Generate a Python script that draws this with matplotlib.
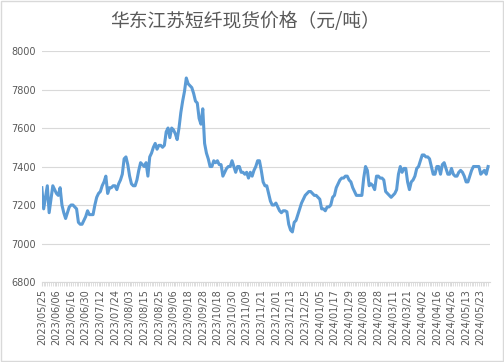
import matplotlib
matplotlib.use('Agg')
import matplotlib.pyplot as plt
from matplotlib.patches import Rectangle
import numpy as np

plt.rcParams['font.family'] = ['DejaVu Sans', 'Noto Sans CJK SC']

title = '华东江苏短纤现货价格（元/吨）'

# one value per trading day, 2023/05/25 .. 2024/05/29
price = [
    7290, 7180, 7240, 7300, 7160, 7230, 7300, 7280, 7260, 7250,
    7290, 7200, 7160, 7130, 7160, 7190, 7200, 7200, 7190, 7180,
    7110, 7100, 7100, 7120, 7140, 7170, 7150, 7150, 7150, 7200,
    7240, 7260, 7270, 7300, 7320, 7350, 7260, 7290, 7290, 7300,
    7300, 7280, 7310, 7330, 7360, 7440, 7450, 7410, 7350, 7310,
    7300, 7300, 7330, 7380, 7420, 7410, 7400, 7420, 7350, 7450,
    7470, 7500, 7520, 7490, 7510, 7510, 7500, 7510, 7580, 7600,
    7550, 7600, 7590, 7570, 7540, 7600, 7680, 7740, 7790, 7860,
    7830, 7820, 7810, 7780, 7740, 7730, 7650, 7620, 7700, 7520,
    7470, 7440, 7400, 7400, 7430, 7420, 7430, 7410, 7410, 7350,
    7370, 7390, 7400, 7400, 7430, 7400, 7370, 7400, 7400, 7370,
    7370, 7360, 7370, 7340, 7370, 7350, 7380, 7400, 7430, 7430,
    7380, 7320, 7300, 7300, 7260, 7220, 7200, 7200, 7210, 7190,
    7170, 7160, 7170, 7170, 7165, 7100, 7070, 7060, 7110, 7120,
    7150, 7180, 7210, 7230, 7250, 7260, 7270, 7270, 7260, 7250,
    7250, 7240, 7230, 7180, 7180, 7170, 7190, 7190, 7200, 7240,
    7250, 7290, 7310, 7330, 7340, 7340, 7350, 7350, 7330, 7320,
    7290, 7270, 7250, 7250, 7250, 7250, 7340, 7400, 7380, 7300,
    7310, 7300, 7280, 7350, 7350, 7340, 7340, 7330, 7270, 7260,
    7250, 7240, 7250, 7260, 7280, 7360, 7400, 7370, 7390, 7390,
    7320, 7280, 7320, 7330, 7350, 7390, 7400, 7430, 7460, 7460,
    7450, 7450, 7440, 7400, 7360, 7360, 7400, 7400, 7360, 7410,
    7420, 7390, 7360, 7360, 7390, 7360, 7350, 7350, 7370, 7380,
    7370, 7350, 7320, 7320, 7350, 7380, 7400, 7400, 7400, 7400,
    7360, 7370, 7380, 7360, 7400,
]

# labels shown on every 8th trading day
tick_labels = [
    '2023/05/25', '2023/06/06', '2023/06/16', '2023/06/30', '2023/07/12',
    '2023/07/24', '2023/08/03', '2023/08/15', '2023/08/25', '2023/09/06',
    '2023/09/18', '2023/09/28', '2023/10/18', '2023/10/30', '2023/11/09',
    '2023/11/21', '2023/12/01', '2023/12/13', '2023/12/25', '2024/01/05',
    '2024/01/17', '2024/01/29', '2024/02/08', '2024/02/28', '2024/03/11',
    '2024/03/21', '2024/04/02', '2024/04/16', '2024/04/26', '2024/05/13',
    '2024/05/23',
]
label_step = 8

txt_color = '#595959'
grid_color = '#D9D9D9'

fig = plt.figure(figsize=(5.04, 3.62), dpi=100)
ax = fig.add_axes([0.083, 0.221, 0.889, 0.638])

x = np.arange(len(price))
ax.plot(x, price, color='#5B9BD5', linewidth=2.2, solid_joinstyle='round')

ax.set_ylim(6800, 8000)
ax.set_yticks(np.arange(6800, 8001, 200))
ax.set_xlim(0, len(price))
ax.yaxis.grid(True, color=grid_color, linewidth=0.8)
ax.set_axisbelow(True)

ax.set_xticks(np.arange(len(tick_labels)) * label_step)
ax.set_xticklabels(tick_labels, rotation=90)
ax.set_xticks(x, minor=True)
ax.tick_params(axis='x', which='both', length=3, color=grid_color, colors=txt_color,
               labelsize=7, pad=2)
ax.tick_params(axis='x', which='minor', length=3, color=grid_color)
ax.tick_params(axis='y', length=0, labelsize=7, colors=txt_color, pad=4)

for s in ['top', 'right', 'left']:
    ax.spines[s].set_visible(False)
ax.spines['bottom'].set_color(grid_color)

fig.text(0.486, 0.94, title, ha='center', va='center', fontsize=13.5,
         color=txt_color, family=['Noto Sans CJK SC', 'DejaVu Sans'])

fig.patches.append(Rectangle((0.002, 0.003), 0.996, 0.994, transform=fig.transFigure,
                             fill=False, edgecolor='#D9D9D9', linewidth=1))

plt.savefig('out.png', dpi=100)
